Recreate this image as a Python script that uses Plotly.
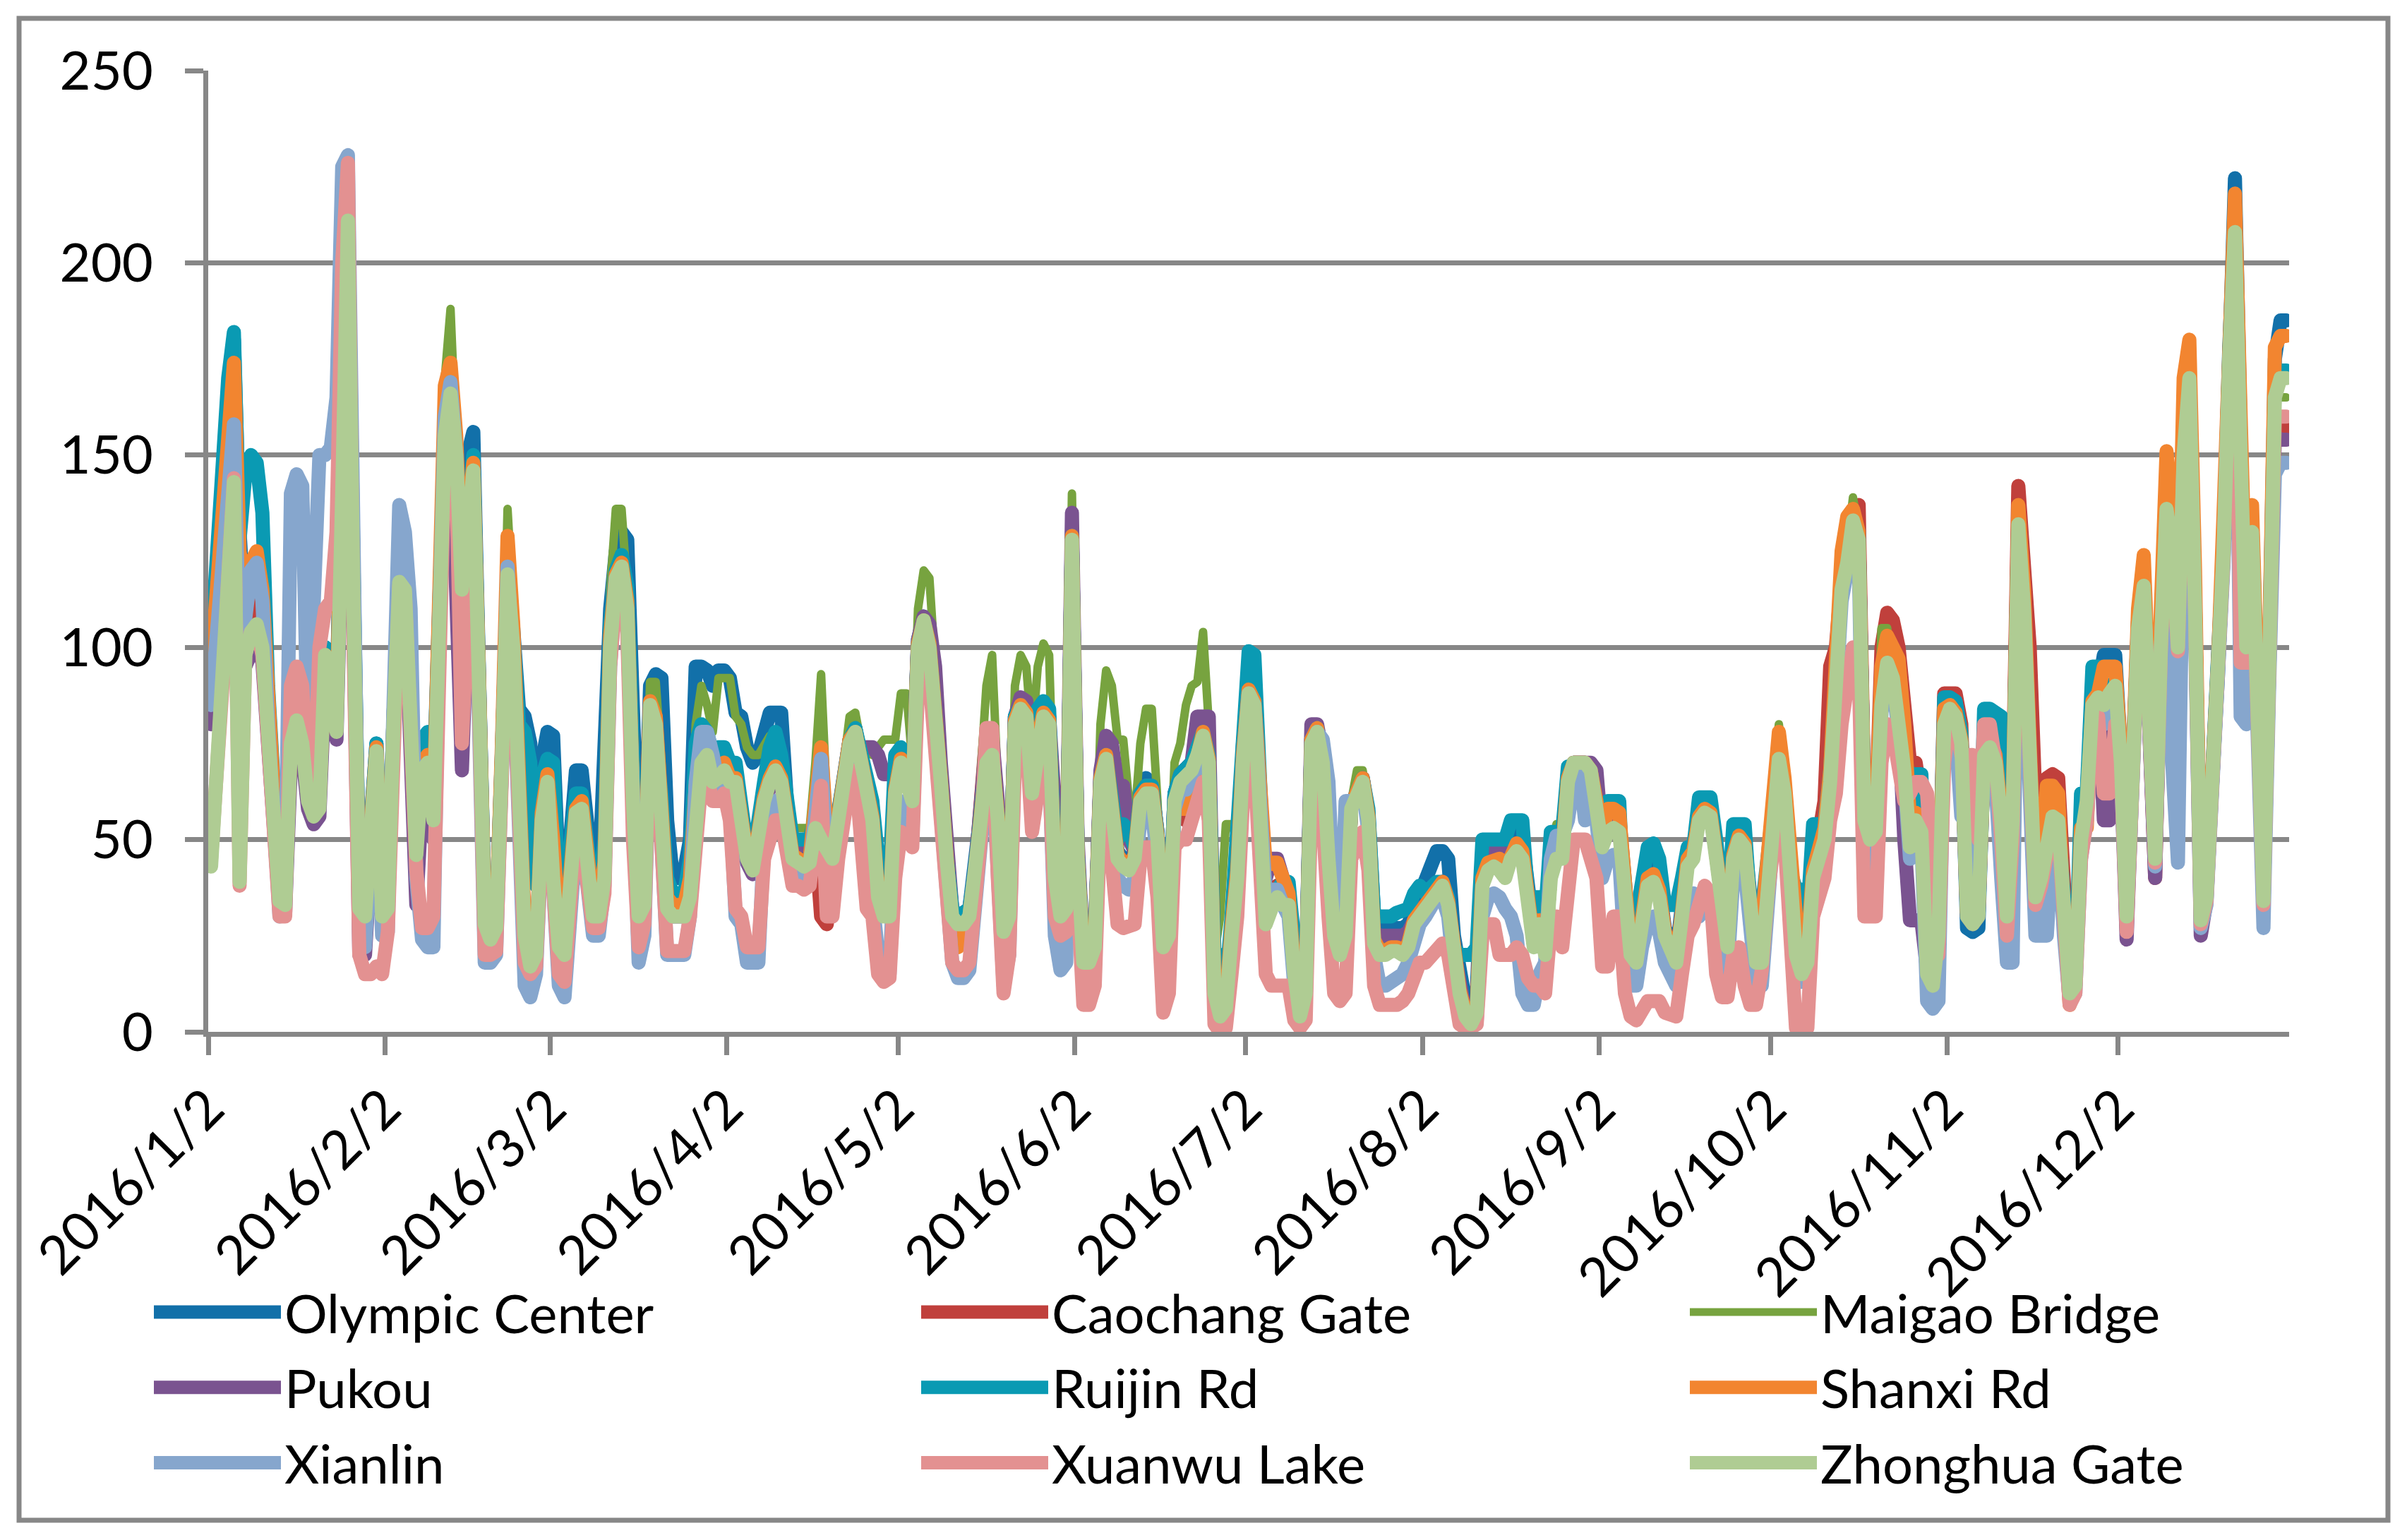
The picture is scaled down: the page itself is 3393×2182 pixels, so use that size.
import pandas as pd
import plotly.graph_objects as go

# Daily values per station, 2016/1/2 .. 2016/12/31 (365 days).
# One line per month block: Jan2-Feb1, Feb2-Mar1, Mar2-Apr1, Apr2-May1, May2-Jun1, Jun2-Jul1,
# Jul2-Aug1, Aug2-Sep1, Sep2-Oct1, Oct2-Nov1, Nov2-Dec1, Dec2-Dec31
olympic_center = [
    100,120,140,165,180,130,105,115,120,110,85,55,38,36,78,85,80,65,60,62,100,96,85,150,215,120,36,34,62,75,34,
    34,82,118,116,78,50,72,74,60,112,158,168,152,118,150,156,95,30,26,29,72,121,105,84,82,75,40,70,78,
    77,40,30,50,68,68,55,40,38,82,110,125,130,128,80,40,45,90,93,92,55,40,40,42,50,95,95,94,90,94,94,
    92,83,82,74,70,72,78,83,83,83,60,48,47,46,47,56,54,50,47,57,67,76,79,72,62,57,38,33,33,64,
    72,67,62,102,108,102,87,67,47,32,30,30,32,42,57,72,74,57,28,32,82,86,84,64,77,84,82,42,32,34,130,
    47,20,20,24,67,73,62,47,45,44,47,64,66,64,52,24,27,62,67,68,70,74,79,72,14,8,10,28,45,75,
    90,88,60,30,35,38,35,35,18,6,12,76,79,72,47,27,22,27,59,63,66,57,30,27,27,27,27,27,28,32,36,
    40,44,47,47,45,25,14,8,6,10,45,48,48,47,45,50,52,50,34,26,30,24,44,48,48,68,70,70,70,68,62,
    52,55,57,56,32,22,20,33,42,43,38,27,22,20,33,46,48,57,59,58,47,32,24,48,52,50,37,20,20,42,
    64,73,64,42,22,17,20,42,49,53,68,93,117,124,135,130,57,52,54,87,98,94,82,70,50,57,54,17,14,27,84,
    86,84,77,27,26,27,74,76,72,57,32,57,135,112,72,37,42,52,58,57,32,12,14,52,62,87,89,98,98,98,
    72,32,67,107,118,82,47,102,138,127,102,152,173,112,31,37,62,92,128,180,222,155,102,133,82,36,98,175,185,185,
]
caochang_gate = [
    95,115,135,160,165,110,100,110,115,105,82,52,36,35,76,84,78,62,58,60,96,94,82,145,205,112,33,32,60,72,32,
    33,80,117,115,76,47,69,71,56,110,156,167,150,116,137,148,90,28,24,27,70,120,100,62,27,18,21,56,66,
    45,25,22,42,58,60,47,32,32,42,102,119,122,112,62,32,35,86,82,56,34,32,32,32,37,62,72,74,67,68,70,
    66,66,56,46,43,56,61,66,69,66,56,46,45,44,45,50,30,28,46,56,66,76,79,71,61,56,36,31,31,63,
    71,66,61,101,107,101,86,66,46,31,28,29,31,41,57,78,74,56,27,31,81,85,83,63,76,83,81,41,31,33,129,
    46,19,19,23,66,72,61,46,44,43,46,61,63,63,51,23,26,58,56,55,60,72,78,72,12,6,8,27,42,72,
    89,86,56,30,35,38,35,35,16,5,11,76,79,71,46,26,21,26,59,63,66,56,24,21,21,22,22,21,23,29,31,
    33,36,38,39,34,21,11,5,3,6,40,44,45,44,42,47,49,47,31,23,29,21,42,47,47,66,70,70,70,68,61,
    50,54,55,54,31,21,19,31,40,41,37,26,21,19,31,45,47,56,58,57,46,31,23,46,51,49,36,19,19,41,
    64,73,64,42,22,17,20,42,49,60,95,100,118,126,135,137,58,53,56,100,109,107,100,85,70,70,60,16,13,27,88,
    88,88,80,35,30,32,73,75,72,58,32,60,142,118,100,60,45,66,67,66,32,11,13,51,61,86,88,86,89,91,
    71,31,66,106,117,81,40,101,137,126,101,151,171,111,30,36,61,91,126,176,209,151,101,131,81,35,96,160,157,157,
]
maigao_bridge = [
    85,100,120,130,140,100,95,100,104,98,78,52,36,35,72,78,74,60,56,58,95,90,80,138,200,108,34,32,60,74,32,
    33,82,118,116,76,47,70,72,56,115,170,188,155,117,136,145,90,29,25,28,74,136,110,75,30,20,22,58,68,
    45,26,23,45,60,60,50,34,34,45,115,136,136,115,65,35,45,91,91,70,36,34,34,35,45,80,90,85,78,92,92,
    92,82,80,74,72,72,75,77,76,73,58,53,53,53,53,70,93,60,50,58,70,82,83,75,73,72,74,76,76,76,
    88,88,70,110,120,118,95,70,48,33,30,31,33,45,65,90,98,65,30,35,90,98,95,76,95,101,98,50,35,38,140,
    60,25,22,30,80,94,90,76,76,60,55,75,84,84,60,28,35,70,75,85,90,91,104,80,20,30,54,54,50,80,
    90,96,70,30,35,38,35,35,16,6,12,75,78,71,46,26,22,28,60,68,68,58,26,23,23,24,24,23,24,29,31,
    33,36,38,39,34,21,11,5,3,6,40,44,45,44,42,47,49,47,32,35,35,30,48,54,54,66,70,70,70,68,61,
    50,54,55,54,31,21,19,31,40,41,37,26,21,19,31,45,47,56,58,57,46,31,23,46,51,49,36,20,20,45,
    66,80,66,42,22,17,20,42,49,52,67,92,118,126,139,130,57,52,55,105,105,94,82,70,50,57,54,17,14,27,82,
    85,83,76,31,29,31,73,75,71,56,31,56,133,111,72,36,41,51,57,56,31,11,13,51,61,86,88,86,89,91,
    70,30,65,105,116,80,45,100,136,125,100,150,170,110,29,35,60,90,125,175,208,150,100,130,80,34,95,165,165,165,
]
pukou = [
    80,95,115,130,150,90,95,100,102,96,76,48,32,31,70,78,72,58,54,56,92,88,76,135,200,105,20,20,55,70,28,
    30,78,114,112,72,33,60,65,50,100,150,160,120,68,110,140,85,27,23,26,68,117,98,58,24,16,19,54,63,
    42,22,20,40,56,57,44,30,30,40,98,116,120,108,58,30,32,84,79,54,32,30,30,30,35,60,70,70,64,65,67,
    64,64,54,44,41,54,59,64,67,64,55,47,48,50,50,54,51,49,46,56,66,74,76,74,74,74,72,67,67,67,
    72,68,62,102,108,106,95,70,48,32,30,31,32,42,58,76,77,60,28,32,82,87,86,64,78,84,82,50,36,38,135,
    50,20,20,24,68,77,75,64,64,50,47,62,64,64,52,24,27,62,67,68,70,82,82,82,12,6,8,27,42,72,
    89,86,58,40,45,45,40,36,16,6,12,80,80,72,46,26,22,26,59,63,66,56,26,25,25,25,25,25,26,30,32,
    33,36,38,39,34,21,11,5,3,6,42,45,47,47,44,47,49,47,31,23,29,21,42,47,47,66,70,70,70,70,68,
    50,54,55,54,31,21,19,31,40,41,37,26,21,19,31,45,47,56,58,57,46,31,23,46,51,49,36,19,19,41,
    63,72,63,41,21,16,19,41,48,51,66,91,116,123,134,129,56,51,53,86,97,93,81,50,29,29,29,16,13,26,81,
    84,82,75,30,28,30,72,74,70,55,30,55,132,110,70,35,40,50,56,55,30,10,12,50,60,85,87,55,55,88,
    68,24,64,104,115,79,40,99,135,124,99,149,169,109,25,34,59,89,124,174,207,149,99,129,79,33,94,155,154,154,
]
ruijin_rd = [
    100,125,150,170,182,128,145,150,148,135,90,55,38,36,78,85,80,65,60,62,100,96,84,150,212,118,35,33,62,75,33,
    34,82,118,116,78,50,76,78,62,112,158,168,152,118,138,150,92,30,26,29,72,121,104,80,78,70,38,66,71,
    70,35,28,48,62,62,50,36,36,50,106,120,124,116,70,36,40,74,74,62,40,36,36,36,45,75,80,78,72,74,74,
    70,70,58,48,45,58,65,74,78,72,58,50,50,50,50,56,52,50,47,57,67,76,79,72,66,60,45,40,40,72,
    74,68,62,101,107,101,86,66,46,32,30,31,32,42,57,72,73,56,28,32,82,85,83,64,84,86,84,44,33,35,129,
    47,20,20,24,66,72,61,50,54,52,48,62,64,64,52,24,27,62,67,68,70,74,78,72,20,20,12,30,50,80,
    99,98,65,32,35,38,39,39,20,8,14,76,79,72,48,28,24,28,59,63,66,58,30,30,30,30,31,32,32,36,38,
    36,38,39,39,35,22,20,20,20,22,50,50,50,50,50,55,55,55,35,35,35,30,52,52,52,69,69,69,68,66,60,
    55,60,60,60,27,32,30,40,48,49,45,33,33,33,40,48,48,61,61,61,50,35,30,54,54,54,32,32,32,45,
    64,73,64,42,37,37,30,54,54,54,68,92,117,124,135,130,57,52,55,88,98,94,82,70,67,67,67,17,14,27,87,
    87,86,78,32,30,32,84,84,83,82,32,57,134,112,72,37,42,52,58,57,32,12,14,62,62,95,95,88,90,91,
    72,32,67,107,118,82,47,102,138,127,102,152,172,112,31,37,62,92,127,178,212,152,102,132,82,36,97,170,172,172,
]
shanxi_rd = [
    95,118,140,160,174,125,115,122,125,115,85,52,36,35,76,84,78,62,58,60,98,94,82,148,212,115,34,32,60,74,32,
    33,82,118,116,77,48,70,72,57,115,168,174,155,117,137,148,92,29,25,28,74,129,106,65,28,18,21,57,67,
    50,28,24,44,58,60,48,33,33,44,103,119,122,112,62,33,36,86,82,58,35,33,33,33,40,64,73,74,68,69,70,
    66,66,56,46,43,56,61,66,69,66,56,46,45,44,45,60,74,52,46,56,66,76,78,71,61,56,36,31,31,63,
    71,66,61,101,107,101,86,66,46,28,22,25,30,41,56,71,73,56,27,31,81,85,83,63,76,83,81,41,31,33,129,
    46,19,19,23,66,72,61,46,44,43,46,61,63,63,51,23,26,58,58,58,65,73,78,71,13,13,8,27,42,72,
    89,86,60,43,44,44,40,36,16,5,11,76,79,71,46,26,21,26,59,63,66,56,24,21,21,22,22,21,23,29,31,
    33,36,38,39,34,21,11,5,3,6,40,44,45,45,42,47,49,47,31,23,29,21,42,47,47,66,70,70,70,68,61,
    52,58,58,57,31,21,19,31,40,41,37,26,21,19,31,45,47,56,58,57,46,31,23,46,51,49,28,28,28,45,
    66,78,66,45,30,25,22,42,49,53,68,100,125,134,136,130,57,50,55,95,103,100,97,80,55,57,54,17,14,27,84,
    85,83,76,31,29,31,74,76,72,57,31,57,137,115,75,38,43,64,64,62,30,7,12,53,53,86,88,95,95,95,
    73,33,68,110,124,85,48,110,151,135,105,170,180,120,32,38,63,95,135,190,218,160,105,137,85,37,100,178,181,181,
]
xianlin = [
    85,105,125,145,158,95,112,120,122,112,80,45,30,35,140,145,142,73,120,150,150,152,165,225,228,110,25,22,45,70,25,
    26,85,137,130,110,40,24,22,22,105,160,169,150,110,130,140,80,18,18,20,68,121,95,50,12,9,15,50,60,
    38,12,9,38,50,45,38,25,25,38,95,115,118,105,50,18,25,80,78,50,20,20,20,20,30,65,78,78,72,64,66,
    60,30,28,18,18,18,50,55,60,60,50,42,42,40,42,60,71,45,42,50,60,70,74,65,50,42,20,15,15,50,
    60,55,50,95,104,95,75,55,35,18,14,14,16,30,45,65,70,45,12,20,75,80,78,55,65,74,70,25,16,18,120,
    40,12,12,16,60,66,55,40,38,37,40,55,57,57,45,12,18,58,63,63,66,70,74,65,6,2,4,20,38,70,
    88,85,50,35,37,37,33,30,12,3,8,72,78,76,65,30,22,60,60,60,63,52,20,12,12,13,14,15,18,25,28,
    30,33,35,35,30,15,6,2,1,3,30,35,36,35,32,30,25,10,7,7,15,18,45,51,51,55,65,68,55,62,55,
    40,45,46,45,20,12,12,22,28,30,26,18,14,12,22,34,36,30,32,32,35,22,16,40,45,42,28,12,12,32,
    60,70,60,38,18,13,16,38,45,48,62,88,112,120,130,125,37,37,40,83,94,90,78,66,45,50,50,8,6,8,78,
    80,78,56,56,56,40,70,72,65,40,18,18,128,100,60,25,25,25,50,50,25,8,10,45,55,80,82,80,83,85,
    68,28,63,103,114,78,43,98,130,70,44,140,165,105,27,33,58,88,122,170,200,82,80,125,60,27,90,145,148,148,
]
xuanwu_lake = [
    45,65,90,118,144,38,98,104,105,98,76,46,30,30,90,95,90,62,60,100,110,112,130,200,226,100,20,15,15,17,15,
    26,78,116,114,72,42,27,27,30,105,152,164,145,75,120,140,85,20,20,21,66,117,96,50,18,15,17,50,60,
    38,15,13,36,52,50,38,27,27,36,95,114,118,104,50,22,28,80,76,50,21,21,21,21,30,55,65,66,60,60,62,
    55,32,30,22,22,22,45,50,55,55,45,38,38,37,38,50,64,30,30,45,55,65,68,45,32,30,15,13,14,40,
    52,50,48,90,100,92,72,50,28,18,16,16,18,32,50,79,79,40,10,20,70,78,76,52,62,72,68,30,25,26,118,
    35,7,7,12,55,60,40,28,27,28,28,45,48,48,35,5,10,48,50,50,55,60,65,55,2,0,1,15,30,60,
    75,70,40,15,12,12,12,12,3,1,3,60,65,55,30,10,8,10,45,50,52,42,12,7,7,7,7,8,10,14,18,
    18,20,22,23,20,8,2,1,1,2,25,28,28,20,20,20,22,20,14,12,12,10,28,30,22,40,50,50,50,45,40,
    17,17,30,30,10,4,3,6,8,8,8,5,4,4,15,25,28,35,38,36,15,9,9,20,22,12,7,7,16,35,
    50,60,50,20,1,1,1,30,35,40,55,62,80,91,100,95,30,30,30,70,80,78,70,60,62,65,65,62,40,20,70,
    82,80,72,72,72,50,80,80,70,50,25,50,130,108,68,33,38,48,54,53,25,7,10,45,55,80,82,62,62,80,
    69,26,64,104,115,79,44,99,135,124,99,149,168,109,28,34,59,89,124,174,207,96,96,128,79,33,94,160,160,160,
]
zhonghua_gate = [
    43,65,90,118,143,39,98,104,106,100,80,50,34,33,75,81,75,60,56,58,98,92,78,140,211,110,32,30,60,73,30,
    32,80,117,115,75,46,68,70,55,110,155,166,150,115,135,146,90,28,24,27,70,119,100,60,25,17,20,55,65,
    40,22,20,40,57,58,45,30,30,40,100,118,121,110,60,30,33,85,80,55,32,30,30,30,35,60,70,72,65,66,68,
    65,65,55,45,42,55,60,65,68,65,55,45,44,43,44,53,50,48,45,55,65,75,78,70,60,55,35,30,30,62,
    70,65,60,100,107,100,85,65,45,30,28,28,30,40,55,70,72,55,26,30,80,84,82,62,75,82,80,40,30,32,128,
    45,18,18,22,65,71,60,45,43,42,45,60,62,62,50,22,25,60,65,66,68,72,77,70,10,4,6,25,40,70,
    88,85,55,28,32,35,33,33,15,4,10,75,78,70,45,25,20,25,58,62,65,55,23,20,20,21,21,20,22,28,30,
    32,35,37,38,33,20,10,4,2,5,38,42,43,42,40,45,47,45,30,22,28,20,40,45,45,65,70,70,70,68,60,
    48,52,53,52,30,20,18,30,38,39,35,25,20,18,30,43,45,55,57,56,45,30,22,45,50,48,35,18,18,40,
    62,71,62,40,20,15,18,40,47,50,65,90,115,122,133,128,55,50,52,85,96,92,80,68,48,55,52,15,12,25,80,
    84,82,75,30,28,30,72,74,70,55,30,55,132,110,70,35,40,50,56,55,30,10,12,50,60,85,87,85,88,90,
    70,30,65,105,116,80,45,100,136,125,100,150,170,110,29,35,60,90,125,175,208,150,100,130,80,34,95,165,170,170,
]

tick_dates = ["2016-01-02", "2016-02-02", "2016-03-02", "2016-04-02", "2016-05-02", "2016-06-02",
              "2016-07-02", "2016-08-02", "2016-09-02", "2016-10-02", "2016-11-02", "2016-12-02"]
tick_labels = ["2016/1/2", "2016/2/2", "2016/3/2", "2016/4/2", "2016/5/2", "2016/6/2",
               "2016/7/2", "2016/8/2", "2016/9/2", "2016/10/2", "2016/11/2", "2016/12/2"]

# Excel date axis: each day sits in the middle of its slot
days = pd.date_range("2016-01-02 12:00", periods=365, freq="D")

# name, values, colour, width, legend column
stations = [
    ("Olympic Center", olympic_center, "#1270A9", 20, "legend"),
    ("Caochang Gate", caochang_gate, "#C0403C", 20, "legend2"),
    ("Maigao Bridge", maigao_bridge, "#77A33F", 12, "legend3"),
    ("Pukou", pukou, "#7A5390", 20, "legend"),
    ("Ruijin Rd", ruijin_rd, "#0A9AB3", 20, "legend2"),
    ("Shanxi Rd", shanxi_rd, "#F28530", 20, "legend3"),
    ("Xianlin", xianlin, "#86A6CD", 20, "legend"),
    ("Xuanwu Lake", xuanwu_lake, "#E39191", 20, "legend2"),
    ("Zhonghua Gate", zhonghua_gate, "#AFCC93", 20, "legend3"),
]
for name, vals, *_ in stations:
    assert len(vals) == len(days), (name, len(vals))

W, H = 3393, 2182
L, R, T, B = 295, 3243, 100, 1462   # plot area in pixels
GRAY = "#878787"
FONT = "Lato, 'Noto Sans', sans-serif"


def px_x(x):
    return (x - L) / (R - L)


def px_y(y):
    return (B - y) / (B - T)


fig = go.Figure()
for name, vals, color, width, leg in stations:
    fig.add_trace(go.Scatter(
        x=days, y=vals, mode="lines", name=name,
        line=dict(color=color, width=width),
        legend=leg, legendgroup=name,
    ))

axis_common = dict(
    showline=True, linewidth=7, linecolor=GRAY,
    ticks="outside", ticklen=26, tickwidth=7, tickcolor=GRAY,
    tickfont=dict(family=FONT, size=76, color="black"),
    zeroline=False, automargin=False,
)
fig.update_xaxes(
    type="date", range=["2016-01-02", "2017-01-01"],
    tickvals=tick_dates, ticktext=tick_labels, tickangle=-45,
    showgrid=False, **axis_common,
)
fig.update_yaxes(
    range=[0, 250], tick0=0, dtick=50,
    showgrid=True, gridwidth=7, gridcolor=GRAY,
    ticklabelstandoff=30, **axis_common,
)

leg_common = dict(
    orientation="v", xanchor="left", y=px_y(1803), yanchor="top",
    font=dict(family=FONT, size=76, color="black"),
    itemwidth=180, tracegroupgap=5, bgcolor="rgba(0,0,0,0)",
)
fig.update_layout(
    width=W, height=H,
    margin=dict(l=L, r=W - R, t=T, b=H - B),
    paper_bgcolor="white", plot_bgcolor="white",
    font=dict(family=FONT, size=76, color="black"),
    legend=dict(x=px_x(213), **leg_common),
    legend2=dict(x=px_x(1300), **leg_common),
    legend3=dict(x=px_x(2389), **leg_common),
    shapes=[dict(
        type="rect", xref="paper", yref="paper",
        x0=px_x(27), x1=px_x(3383), y0=px_y(2154), y1=px_y(26),
        line=dict(color=GRAY, width=7), layer="below",
    )],
)

# no page margin, round joins on the data lines, thick legend swatches (Maigao thin)
POST_JS = """
document.body.style.margin = '0';
var st = document.createElement('style');
st.innerHTML = '.scatterlayer .js-line {stroke-linejoin: round !important; stroke-linecap: round !important;}'
  + ' .legendlines path {stroke-width: 19px !important;}';
document.head.appendChild(st);
var gd = document.getElementById('{plot_id}');
function thinMaigao() {
  document.querySelectorAll('.legendlines path').forEach(function (p) {
    var s = (p.style.stroke || '').replace(/\\s/g, '').toLowerCase();
    if (s === 'rgb(119,163,63)' || s === '#77a33f') {
      p.style.setProperty('stroke-width', '11px', 'important');
    }
  });
}
thinMaigao();
gd.on('plotly_afterplot', thinMaigao);
setTimeout(thinMaigao, 300);
"""

fig.write_html("out.html", post_script=POST_JS, config={"displayModeBar": False})
